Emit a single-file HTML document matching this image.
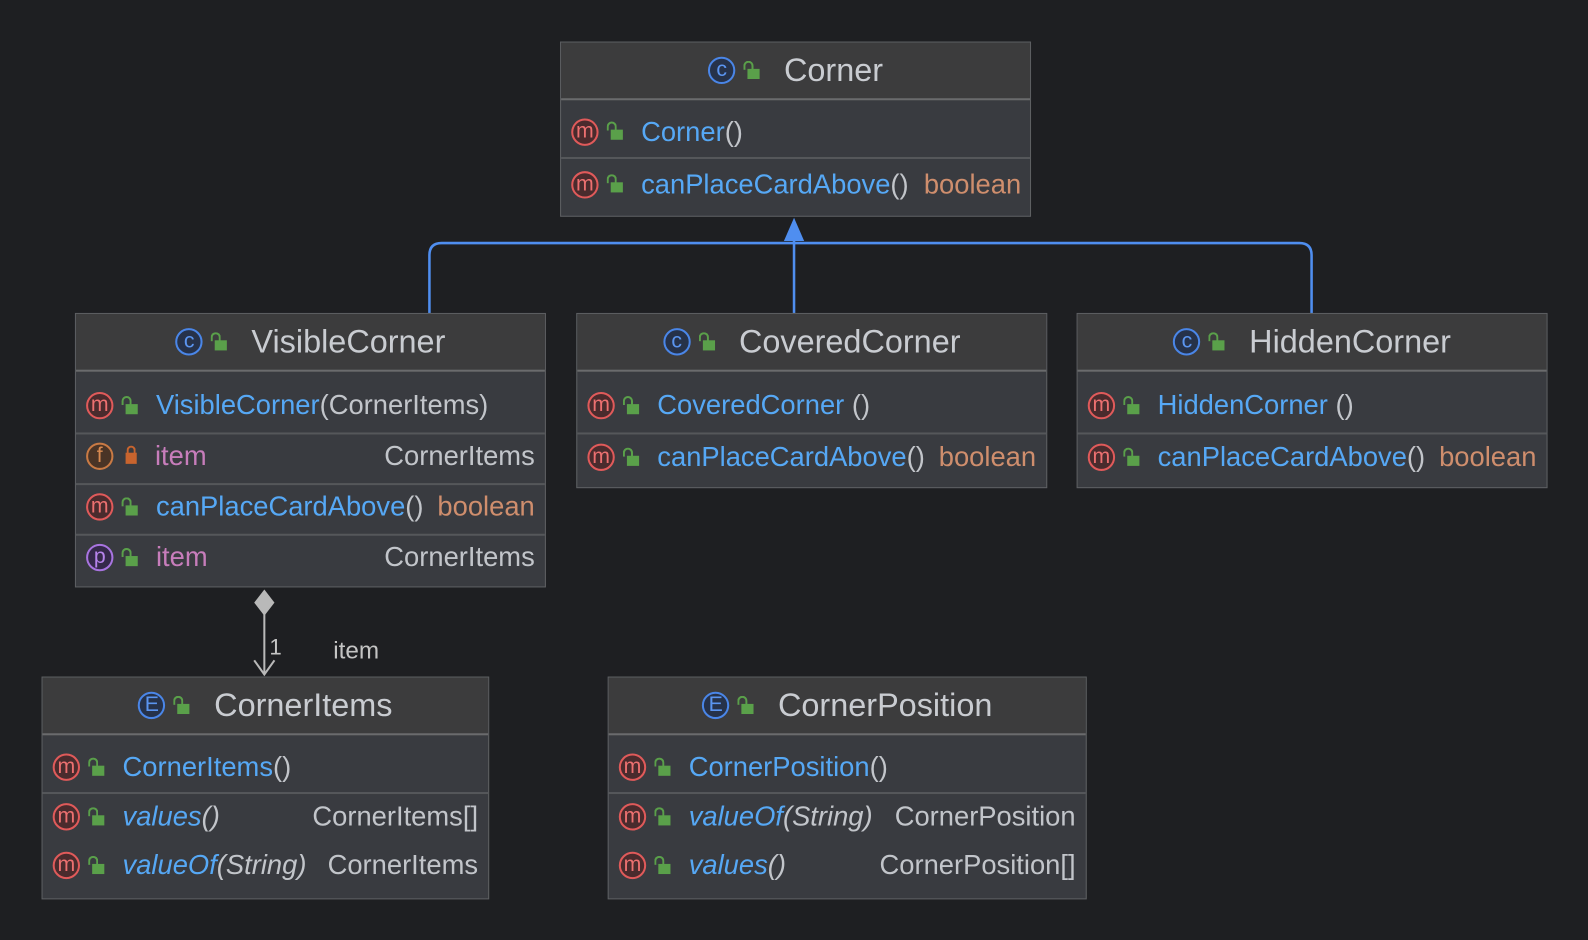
<!DOCTYPE html>
<html><head><meta charset="utf-8"><style>
body{margin:0;width:1588px;height:940px;background:#1e1f22;position:relative;overflow:hidden;font-family:"Liberation Sans",sans-serif;}
#w{position:absolute;left:0;top:0;width:1568px;height:928px;transform:scale(1.0128);transform-origin:0 0;}
.box{position:absolute;border:1.5px solid #5e6063;background:#393b40;box-sizing:border-box;}
.hd{height:57px;background:#3c3c3d;border-bottom:2px solid #6a6b6d;display:flex;align-items:center;justify-content:center;color:#c9ccd1;font-size:32px;box-sizing:border-box;}
.row{display:flex;align-items:center;position:relative;font-size:27px;color:#c2c5ca;box-sizing:border-box;border-bottom:2px solid #55575a;padding-left:10px;padding-right:10px;padding-bottom:5px;}
.row.nb{border-bottom:none}
.ic{width:23px;height:23px;border-radius:50%;border:2px solid #e05a5a;background:#4a2b2d;color:#ec7070;font-size:21px;line-height:21px;text-align:center;flex:none;}
.ic.c{border-color:#4a86e8;background:#26324a;color:#5b95f0;}
.ic.f{border-color:#c97a44;background:#4a3426;color:#d98a50;}
.ic.p{border-color:#a874e0;background:#35294a;color:#b784ec;}
.lk{width:12px;height:10px;background:#5aa04a;margin:6px 18px 0 12px;position:relative;flex:none;}
.lk:before{content:"";position:absolute;left:-4px;top:-8px;width:6px;height:7px;border:2px solid #5aa04a;border-bottom:none;border-radius:5px 5px 0 0;}
.lk.r{background:#c8642e;width:11px;height:11px;margin-top:4px}
.lk.r:before{left:1px;width:5px;top:-7px;border-color:#c8642e}
.hd .lk{margin-right:24px}
.n{color:#56a8f5}
.v{color:#c77dbb}
.t{color:#cf8e6d}
.i{font-style:italic}
.sp{flex:1}
</style></head><body><div id="w">
<svg width="1568" height="928" style="position:absolute;left:0;top:0">
<g fill="none" stroke="#4f8ef0" stroke-width="2.5">
<path d="M424 309 V252 Q424 240 436 240 H1283 Q1295 240 1295 252 V309"/>
<path d="M784 309 V236"/>
</g>
<polygon points="784,215 774,238 794,238" fill="#4f8ef0"/>
<polygon points="261,582 271,595 261,608 251,595" fill="#b9b9b9"/>
<g stroke="#b9b9b9" stroke-width="2" fill="none"><path d="M261 606 V666"/><path d="M251 652 L261 666 L271 652"/></g>
<text x="266" y="646" fill="#c4c4c4" font-size="22" font-family="Liberation Sans">1</text>
<text x="329" y="650" fill="#c4c4c4" font-size="24" font-family="Liberation Sans">item</text>
</svg>

<div class="box" style="left:553px;top:41px;width:465px;height:173px">
<div class="hd"><span class="ic c">c</span><span class="lk"></span>Corner</div>
<div class="row" style="height:58px;padding-top:11px"><span class="ic">m</span><span class="lk"></span><span class="n">Corner</span>()</div>
<div class="row nb" style="height:55px"><span class="ic">m</span><span class="lk"></span><span class="n">canPlaceCardAbove</span>()&nbsp;&nbsp;<span class="t">boolean</span></div>
</div>

<div class="box" style="left:74px;top:309px;width:465px;height:271px">
<div class="hd"><span class="ic c">c</span><span class="lk"></span>VisibleCorner</div>
<div class="row" style="height:62px;padding-top:12px"><span class="ic">m</span><span class="lk"></span><span class="n">VisibleCorner</span>(CornerItems)</div>
<div class="row" style="height:50px"><span class="ic f">f</span><span class="lk r"></span><span class="v">item</span><span class="sp"></span>CornerItems</div>
<div class="row" style="height:50px"><span class="ic">m</span><span class="lk"></span><span class="n">canPlaceCardAbove</span>()<span class="sp"></span><span class="t">boolean</span></div>
<div class="row nb" style="height:48px"><span class="ic p">p</span><span class="lk"></span><span class="v">item</span><span class="sp"></span>CornerItems</div>
</div>

<div class="box" style="left:569px;top:309px;width:465px;height:173px">
<div class="hd"><span class="ic c">c</span><span class="lk"></span>CoveredCorner</div>
<div class="row" style="height:62px;padding-top:12px"><span class="ic">m</span><span class="lk"></span><span class="n">CoveredCorner</span>&nbsp;()</div>
<div class="row nb" style="height:50px"><span class="ic">m</span><span class="lk"></span><span class="n">canPlaceCardAbove</span>()<span class="sp"></span><span class="t">boolean</span></div>
</div>

<div class="box" style="left:1063px;top:309px;width:465px;height:173px">
<div class="hd"><span class="ic c">c</span><span class="lk"></span>HiddenCorner</div>
<div class="row" style="height:62px;padding-top:12px"><span class="ic">m</span><span class="lk"></span><span class="n">HiddenCorner</span>&nbsp;()</div>
<div class="row nb" style="height:50px"><span class="ic">m</span><span class="lk"></span><span class="n">canPlaceCardAbove</span>()<span class="sp"></span><span class="t">boolean</span></div>
</div>

<div class="box" style="left:41px;top:668px;width:442px;height:220px">
<div class="hd"><span class="ic c">E</span><span class="lk"></span>CornerItems</div>
<div class="row" style="height:58px;padding-top:12px"><span class="ic">m</span><span class="lk"></span><span class="n">CornerItems</span>()</div>
<div class="row nb" style="height:50px"><span class="ic">m</span><span class="lk"></span><span class="n i">values</span><span class="i">()</span><span class="sp"></span>CornerItems[]</div>
<div class="row nb" style="height:46px"><span class="ic">m</span><span class="lk"></span><span class="n i">valueOf</span><span class="i">(String)</span><span class="sp"></span>CornerItems</div>
</div>

<div class="box" style="left:600px;top:668px;width:473px;height:220px">
<div class="hd"><span class="ic c">E</span><span class="lk"></span>CornerPosition</div>
<div class="row" style="height:58px;padding-top:12px"><span class="ic">m</span><span class="lk"></span><span class="n">CornerPosition</span>()</div>
<div class="row nb" style="height:50px"><span class="ic">m</span><span class="lk"></span><span class="n i">valueOf</span><span class="i">(String)</span><span class="sp"></span>CornerPosition</div>
<div class="row nb" style="height:46px"><span class="ic">m</span><span class="lk"></span><span class="n i">values</span><span class="i">()</span><span class="sp"></span>CornerPosition[]</div>
</div>
</div></body></html>
